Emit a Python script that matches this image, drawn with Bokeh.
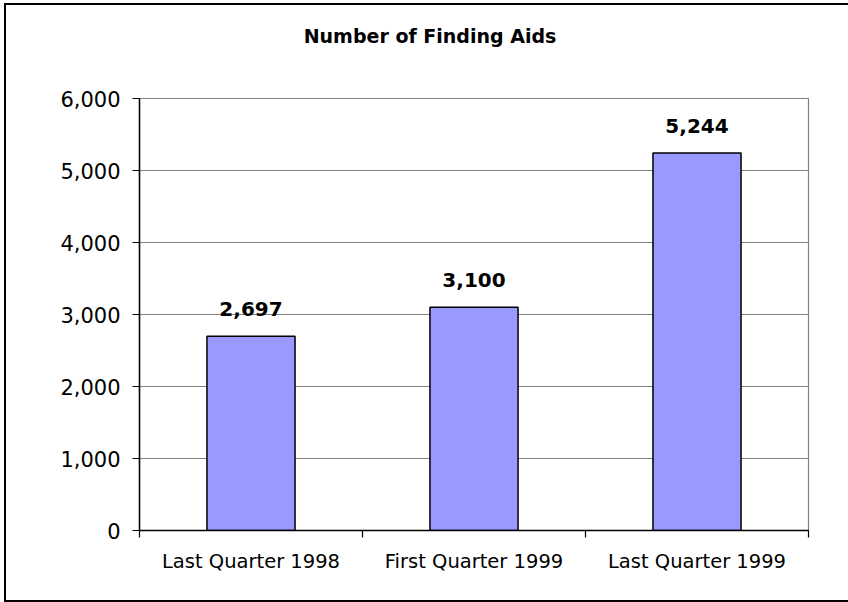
from bokeh.plotting import figure
from bokeh.models import (Range1d, FixedTicker, NumeralTickFormatter, Label,
                          ColumnDataSource, InlineStyleSheet)
from bokeh.core.properties import value
from bokeh.embed import file_html
from bokeh.resources import INLINE

# ---- data ----
categories = ["Last Quarter 1998", "First Quarter 1999", "Last Quarter 1999"]
counts = [2697, 3100, 5244]
count_labels = ["2,697", "3,100", "5,244"]
y_ticks = [0, 1000, 2000, 3000, 4000, 5000, 6000]
title_text = "Number of Finding Aids"

FONT = "DejaVu Sans"

xpos = [i + 0.5 for i in range(len(categories))]
bounds = [float(i) for i in range(len(categories) + 1)]

p = figure(width=848, height=602, output_backend="svg", toolbar_location=None,
           x_range=Range1d(0, len(categories)), y_range=Range1d(0, 6000),
           min_border_left=139, min_border_right=40, min_border_top=98,
           min_border_bottom=72)
# outer chart-area frame (left, top and bottom edges; the right edge lies off-page)
p.stylesheets = [InlineStyleSheet(css=(
    ":host { background: "
    "linear-gradient(#000,#000) 4px 3px / 2px 599px no-repeat, "
    "linear-gradient(#000,#000) 4px 3px / 844px 2px no-repeat, "
    "linear-gradient(#000,#000) 4px 600px / 844px 2px no-repeat, #fff; }"))]
p.background_fill_color = "white"
p.border_fill_color = None
p.outline_line_color = "#808080"
p.outline_line_width = 1.2

src = ColumnDataSource(dict(x=xpos, top=counts, lab=count_labels))
p.vbar(x="x", top="top", width=0.395, source=src, fill_color="#9999FF",
       line_color="black", line_width=1.5)
p.text(x="x", y="top", text="lab", source=src, text_align="center",
       text_baseline="alphabetic", y_offset=-27, text_font=value(FONT),
       text_font_style="bold", text_font_size="20px", text_color="black")

# y axis
yax = p.yaxis[0]
yax.ticker = FixedTicker(ticks=y_ticks)
yax.formatter = NumeralTickFormatter(format="0,0")
yax.major_tick_out = 7
yax.major_tick_in = 0
yax.minor_tick_line_color = None
yax.axis_line_color = "black"
yax.axis_line_width = 1.5
yax.major_tick_line_color = "black"
yax.major_tick_line_width = 1.2
yax.major_label_text_font = FONT
yax.major_label_text_font_size = "21px"
yax.major_label_text_color = "black"
yax.major_label_standoff = 12

# x axis
xax = p.xaxis[0]
xax.ticker = FixedTicker(ticks=xpos, minor_ticks=bounds)
xax.major_label_overrides = {x: c for x, c in zip(xpos, categories)}
xax.major_tick_out = 0
xax.major_tick_in = 0
xax.minor_tick_out = 7
xax.minor_tick_in = 0
xax.minor_tick_line_color = "black"
xax.minor_tick_line_width = 1.2
xax.axis_line_color = "black"
xax.axis_line_width = 1.5
xax.major_label_text_font = FONT
xax.major_label_text_font_size = "19.5px"
xax.major_label_text_color = "black"
xax.major_label_standoff = 12

p.xgrid.grid_line_color = None
p.ygrid.ticker = FixedTicker(ticks=y_ticks)
p.ygrid.grid_line_color = "#808080"
p.ygrid.grid_line_width = 1.2

# title, placed in the top side panel (not clipped to the frame)
p.add_layout(Label(x=290.5, y=63, x_units="screen", y_units="screen",
                   text=title_text, text_align="center", text_baseline="alphabetic",
                   text_font=FONT, text_font_style="bold", text_font_size="19px",
                   text_color="black"), "above")

open("out.html", "w").write(file_html(p, INLINE))
